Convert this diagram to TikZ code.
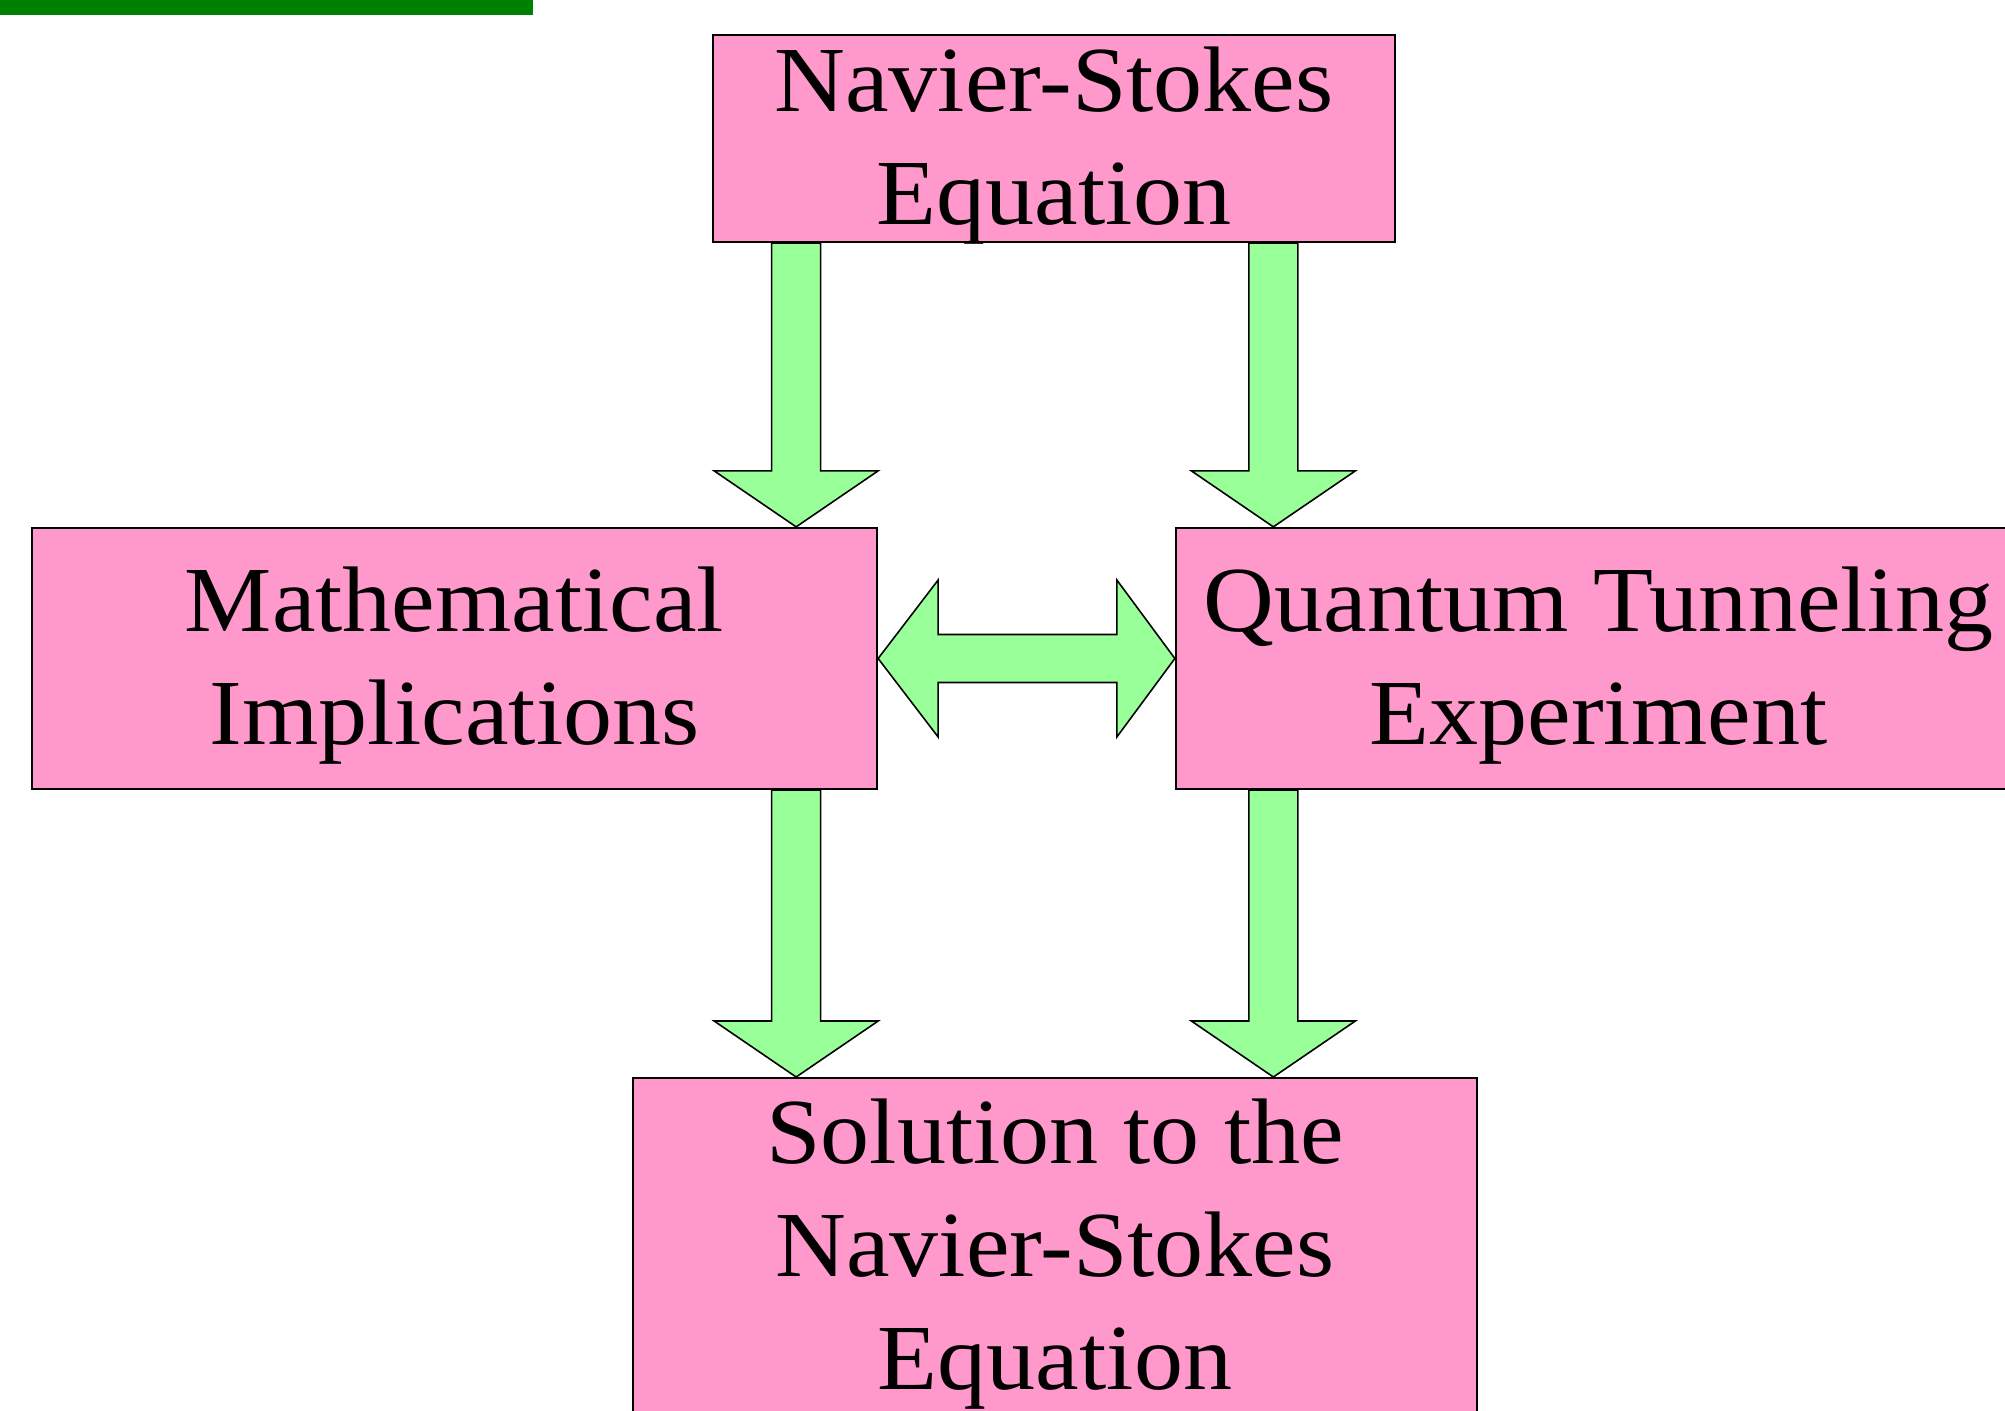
\documentclass[tikz,border=0pt]{standalone}
\usepackage{fontspec}
\setmainfont{Liberation Serif}[FakeStretch=1.053]
\usetikzlibrary{calc,positioning}

\definecolor{boxpink}{HTML}{FF99CC}
\definecolor{arrgreen}{HTML}{99FF99}
\definecolor{bargreen}{HTML}{008000}

% taller first line, pushes the text a bit lower in its box
\newcommand{\tstrut}{\rule{0pt}{0.79cm}}
% block arrow pointing down: shaft starts at y of #1, tip at #2
\newcommand{\downfat}[2]{%
  \draw[fat] let \p1=(#1), \p2=(#2) in
    (\x2-0.245cm,\y1) -- (\x2+0.245cm,\y1) -- (\x2+0.245cm,\y2+0.56cm)
    -- (\x2+0.82cm,\y2+0.56cm) -- (\x2,\y2) -- (\x2-0.82cm,\y2+0.56cm)
    -- (\x2-0.245cm,\y2+0.56cm) -- cycle;}
% block arrow with two heads, from #1 to #2
\newcommand{\twofat}[2]{%
  \draw[fat] let \p1=(#1), \p2=(#2) in
    (\x1,\y1) -- (\x1+0.6cm,\y1+0.785cm) -- (\x1+0.6cm,\y1+0.24cm)
    -- (\x2-0.58cm,\y1+0.24cm) -- (\x2-0.58cm,\y1+0.785cm) -- (\x2,\y1)
    -- (\x2-0.58cm,\y1-0.785cm) -- (\x2-0.58cm,\y1-0.24cm)
    -- (\x1+0.6cm,\y1-0.24cm) -- (\x1+0.6cm,\y1-0.785cm) -- cycle;}

\begin{document}
\begin{tikzpicture}[
    x=1cm,y=1cm,
    stage/.style={draw=black,line width=.65pt,fill=boxpink,align=center,
      font=\fontsize{26.5}{32.2}\selectfont,inner xsep=0pt,inner ysep=-3mm},
    fat/.style={draw=black,line width=.45pt,fill=arrgreen,line join=miter}]
  \useasboundingbox (0,0) rectangle (20.05,14.1);
  \clip (0,0) rectangle (20.05,14.1);

  \fill[bargreen] (0,14.1) rectangle (5.33,13.95);

  \node[stage,minimum width=6.82cm,minimum height=2.07cm] (nse) at (10.54,12.715) {\tstrut Navier-Stokes\\Equation};
  \node[stage,minimum width=8.45cm,minimum height=2.61cm] (math) at (4.545,7.515) {\tstrut Mathematical\\Implications};
  \node[stage,minimum width=8.45cm,minimum height=2.61cm] (qt) at (15.985,7.515) {\tstrut Quantum Tunneling\\Experiment};
  \node[stage,minimum width=8.44cm,minimum height=3.37cm,anchor=north] (sol) at (10.55,3.33) {\tstrut Solution to the\\Navier-Stokes\\Equation};

  \coordinate (lcol) at ([xshift=-8.2mm]math.north east);
  \coordinate (rcol) at ([xshift=9.85mm]qt.north west);

  \downfat{nse.south}{lcol}
  \downfat{nse.south}{rcol}
  \downfat{math.south}{sol.north -| lcol}
  \downfat{qt.south}{sol.north -| rcol}
  \twofat{math.east}{qt.west}
\end{tikzpicture}
\end{document}
